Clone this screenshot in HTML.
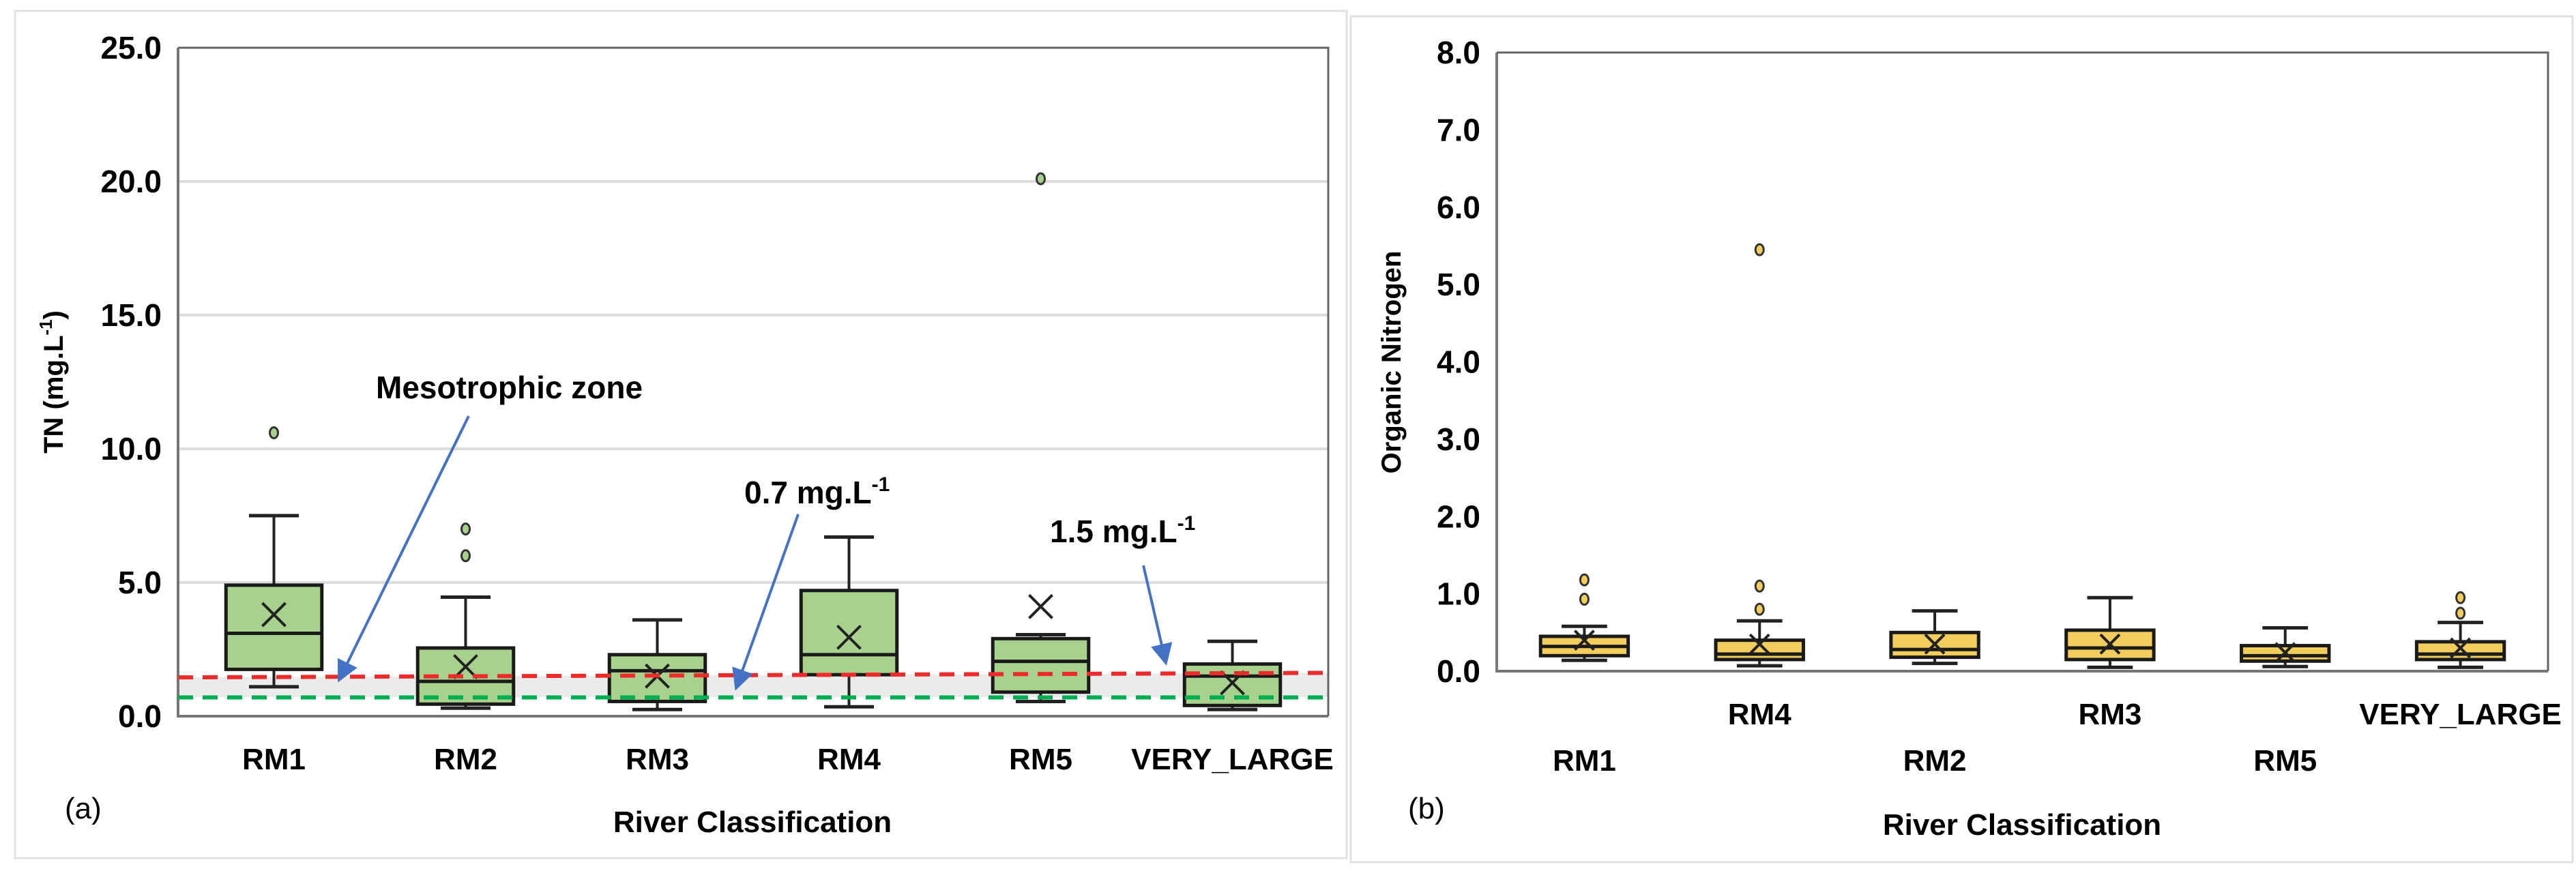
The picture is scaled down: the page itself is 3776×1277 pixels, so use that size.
<!DOCTYPE html>
<html><head><meta charset="utf-8"><style>
body{margin:0;background:#fff;}
svg{display:block;font-family:"Liberation Sans",sans-serif;font-weight:bold;}
</style></head><body>
<svg id="c" width="3776" height="1277" xmlns="http://www.w3.org/2000/svg">
<rect x="22" y="16" width="1952" height="1242" fill="none" stroke="#e0e0e0" stroke-width="3"/>
<rect x="1980" y="24" width="1791" height="1240" fill="none" stroke="#e0e0e0" stroke-width="3"/>
<g id="ga"></g>
<g id="gb"></g>
</svg>
<script>
const catsA=["RM1","RM2","RM3","RM4","RM5","VERY_LARGE"];
const minA=[1.1,0.3,0.25,0.35,0.55,0.25];
const q1A=[1.75,0.45,0.55,1.55,0.9,0.4];
const medA=[3.1,1.3,1.7,2.3,2.05,1.5];
const q3A=[4.9,2.55,2.3,4.7,2.9,1.95];
const maxA=[7.5,4.45,3.6,6.7,3.05,2.8];
const meanA=[3.8,1.85,1.5,2.95,4.1,1.25];
const outA=[[10.6],[6.0,7.0],[],[],[20.1],[]];
const ticksA=[0,5,10,15,20,25];

const catsB=["RM1","RM4","RM2","RM3","RM5","VERY_LARGE"];
const minB=[0.14,0.07,0.1,0.05,0.06,0.05];
const q1B=[0.2,0.15,0.18,0.15,0.13,0.15];
const medB=[0.32,0.22,0.28,0.3,0.2,0.22];
const q3B=[0.45,0.4,0.5,0.53,0.33,0.38];
const maxB=[0.58,0.65,0.78,0.95,0.56,0.63];
const meanB=[0.4,0.35,0.35,0.35,0.24,0.3];
const outB=[[0.93,1.18],[0.8,1.1,5.45],[],[],[],[0.75,0.95]];
const ticksB=[0,1,2,3,4,5,6,7,8];

const NS="http://www.w3.org/2000/svg";
function mk(p,t,a,txt){const e=document.createElementNS(NS,t);for(const k in a)e.setAttribute(k,a[k]);if(txt!==undefined)e.textContent=txt;p.appendChild(e);return e;}

function chart(g,o){
  const x0=o.x0,x1=o.x1,yT=o.yT,yB=o.yB,ymax=o.ymax;
  const bw=(x1-x0)/o.cats.length;
  const Y=v=>yB-(v/ymax)*(yB-yT);
  const X=i=>x0+bw*(i+0.5);
  if(o.grid){o.ticks.forEach(t=>{if(t>0&&t<ymax){const l=mk(g,"line",{x1:x0,x2:x1,y1:Y(t),y2:Y(t),stroke:"#dcdcdc","stroke-width":4});
    
    }});}
  if(o.band){
    const b=mk(g,"polygon",{points:`${x0},${Y(1.45)} ${x1},${Y(1.62)} ${x1},${Y(0.7)} ${x0},${Y(0.7)}`,fill:"#ebebeb"});
    
    
  }
  const ax=mk(g,"path",{d:`M${x0},${yT} L${x0},${yB} L${x1},${yB}`,fill:"none",stroke:"#777","stroke-width":4});
  
  
  const tp=mk(g,"path",{d:`M${x0},${yT} L${x1},${yT} L${x1},${yB}`,fill:"none",stroke:"#666","stroke-width":3});
  
  
  o.ticks.forEach(t=>{const tx=mk(g,"text",{x:x0-24,y:Y(t)+16,"text-anchor":"end","font-size":46},t.toFixed(1));
    
    });
  const bwid=bw*o.bf, cap=bw*0.26;
  o.cats.forEach((c,i)=>{
    const cx=X(i);
    const bg=mk(g,"g",{});
    
    
    mk(bg,"line",{x1:cx,x2:cx,y1:Y(o.max[i]),y2:Y(o.q3[i]),stroke:"#222","stroke-width":4});
    mk(bg,"line",{x1:cx,x2:cx,y1:Y(o.q1[i]),y2:Y(o.min[i]),stroke:"#222","stroke-width":4});
    mk(bg,"line",{x1:cx-cap/2,x2:cx+cap/2,y1:Y(o.max[i]),y2:Y(o.max[i]),stroke:"#222","stroke-width":5});
    mk(bg,"line",{x1:cx-cap/2,x2:cx+cap/2,y1:Y(o.min[i]),y2:Y(o.min[i]),stroke:"#222","stroke-width":5});
    mk(bg,"rect",{x:cx-bwid/2,y:Y(o.q3[i]),width:bwid,height:Y(o.q1[i])-Y(o.q3[i]),fill:o.fill,stroke:"#1a1a1a","stroke-width":5});
    mk(bg,"line",{x1:cx-bwid/2,x2:cx+bwid/2,y1:Y(o.med[i]),y2:Y(o.med[i]),stroke:"#1a1a1a","stroke-width":5});
    const m=Y(o.mean[i]),s=o.xs;
    mk(bg,"path",{d:`M${cx-s},${m-s} L${cx+s},${m+s} M${cx+s},${m-s} L${cx-s},${m+s}`,stroke:"#222","stroke-width":4,fill:"none"});
    o.out[i].forEach(v=>{const p=mk(g,"ellipse",{cx:cx,cy:Y(v),rx:6,ry:8,fill:o.dot,stroke:"#333","stroke-width":3});
      
      });
    const ly=o.stagger?(i%2===0?o.lab2:o.lab1):o.lab1;
    const lt=mk(g,"text",{x:cx,y:ly,"text-anchor":"middle","font-size":44},c);
    
    
  });
  return Y;
}
const ga=document.getElementById('ga'), gb=document.getElementById('gb');
const YA=chart(ga,{x0:261,x1:1947,yT:70,yB:1050,ymax:25,cats:catsA,min:minA,q1:q1A,med:medA,q3:q3A,max:maxA,mean:meanA,out:outA,ticks:ticksA,grid:true,band:true,fill:"#a9d18e",dot:"#a9d18e",bf:0.5,xs:17,lab1:1128,stagger:false});
const rl=mk(ga,"line",{x1:261,x2:1947,y1:YA(1.45),y2:YA(1.62),stroke:"#ee2a2a","stroke-width":6,"stroke-dasharray":"22 14"});


const gl=mk(ga,"line",{x1:261,x2:1947,y1:YA(0.7),y2:YA(0.7),stroke:"#00b050","stroke-width":6,"stroke-dasharray":"22 14"});


const defs=mk(document.getElementById('c'),"defs",{});
const mkr=mk(defs,"marker",{id:"ah",markerWidth:8,markerHeight:8,refX:7,refY:4,orient:"auto",markerUnits:"strokeWidth"});
mk(mkr,"path",{d:"M0,0 L8,4 L0,8 z",fill:"#4472c4"});
[[687,610,497,997],[1170,754,1079,1009],[1676,829,1709,972]].forEach(a=>{
  const l=mk(ga,"line",{x1:a[0],y1:a[1],x2:a[2],y2:a[3],stroke:"#4472c4","stroke-width":4,"marker-end":"url(#ah)"});
  
  
});
const t1=mk(ga,"text",{x:551,y:584,"font-size":46},"Mesotrophic zone");


const t2=mk(ga,"text",{x:1091,y:738,"font-size":46});


t2.innerHTML='0.7 mg.L<tspan font-size="30" dy="-18">-1</tspan>';
const t3=mk(ga,"text",{x:1539,y:795,"font-size":46});


t3.innerHTML='1.5 mg.L<tspan font-size="30" dy="-18">-1</tspan>';
const ya=mk(ga,"text",{transform:"translate(92,560) rotate(-90)","text-anchor":"middle","font-size":40});


ya.innerHTML='TN (mg.L<tspan font-size="26" dy="-16">-1</tspan><tspan dy="16">)</tspan>';
const xa=mk(ga,"text",{x:1103,y:1220,"text-anchor":"middle","font-size":44},"River Classification");


const pa=mk(ga,"text",{x:95,y:1200,"font-size":44,"font-weight":"normal"},"(a)");



chart(gb,{x0:2194,x1:3735,yT:77,yB:984,ymax:8,cats:catsB,min:minB,q1:q1B,med:medB,q3:q3B,max:maxB,mean:meanB,out:outB,ticks:ticksB,grid:false,band:false,fill:"#f2cd5c",dot:"#f2cd5c",bf:0.5,xs:14,lab1:1062,lab2:1130,stagger:true});
const yb=mk(gb,"text",{transform:"translate(2053,531) rotate(-90)","text-anchor":"middle","font-size":40},"Organic Nitrogen");


const xb=mk(gb,"text",{x:2964,y:1224,"text-anchor":"middle","font-size":44},"River Classification");


const pb=mk(gb,"text",{x:2064,y:1200,"font-size":44,"font-weight":"normal"},"(b)");


</script>
</body></html>
